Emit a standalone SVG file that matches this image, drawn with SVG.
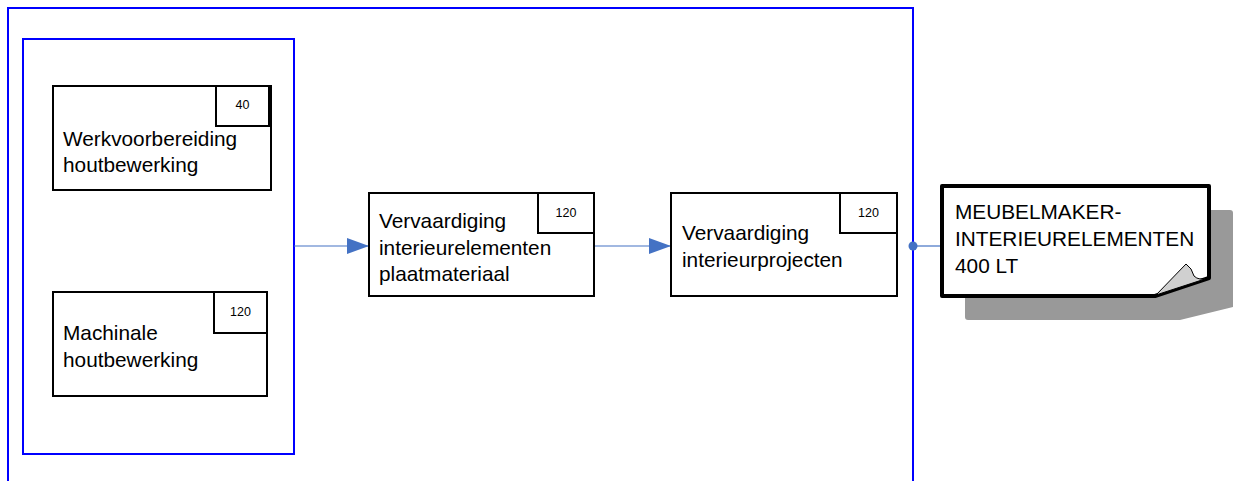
<svg xmlns="http://www.w3.org/2000/svg" width="1235" height="481" viewBox="0 0 1235 481">
<defs>
<style>
.frame{fill:none;stroke:#0000ff;stroke-width:2}
.box{fill:#fff;stroke:#000;stroke-width:2}
.num{font-family:"Liberation Sans",Arial,sans-serif;font-size:12.5px;fill:#000;text-anchor:middle}
.lbl{font-family:"Liberation Sans",Arial,sans-serif;font-size:20.8px;fill:#000}
.conn{fill:none;stroke:#4472c4;stroke-width:1.2}
</style>
<marker id="arr" markerWidth="22" markerHeight="16" refX="22" refY="8" orient="auto" markerUnits="userSpaceOnUse">
<path d="M0,0 L22,8 L0,16 Z" fill="#4472c4"/>
</marker>
</defs>
<rect width="1235" height="481" fill="#fff"/>
<g id="outer-frame"><rect class="frame" x="8" y="8" width="905" height="500"/></g>
<g id="inner-frame"><rect class="frame" x="23" y="39" width="271" height="415"/></g>
<g id="connectors">
<line class="conn" x1="294" y1="246" x2="369" y2="246" marker-end="url(#arr)"/>
<line class="conn" x1="594" y1="246" x2="671" y2="246" marker-end="url(#arr)"/>
<line class="conn" x1="913" y1="246" x2="942" y2="246"/>
<circle cx="913" cy="246" r="4.5" fill="#4472c4"/>
</g>
<g id="node-werkvoorbereiding">
<rect class="box" x="53" y="86" width="218" height="104"/>
<rect class="box" x="216" y="86" width="53" height="40"/>
<text class="num" x="242.5" y="109">40</text>
<text class="lbl" x="63" y="146">Werkvoorbereiding</text>
<text class="lbl" x="63" y="172">houtbewerking</text>
</g>
<g id="node-machinale">
<rect class="box" x="53" y="292" width="214" height="104"/>
<rect class="box" x="214" y="292" width="53" height="41"/>
<text class="num" x="240.5" y="316">120</text>
<text class="lbl" x="63" y="340">Machinale</text>
<text class="lbl" x="63" y="367">houtbewerking</text>
</g>
<g id="node-plaatmateriaal">
<rect class="box" x="369" y="193" width="225" height="103"/>
<rect class="box" x="538" y="193" width="56" height="40"/>
<text class="num" x="566" y="217">120</text>
<text class="lbl" x="379" y="228">Vervaardiging</text>
<text class="lbl" x="379" y="255">interieurelementen</text>
<text class="lbl" x="379" y="281">plaatmateriaal</text>
</g>
<g id="node-interieurprojecten">
<rect class="box" x="671" y="193" width="226" height="103"/>
<rect class="box" x="840" y="193" width="57" height="40"/>
<text class="num" x="868.5" y="217">120</text>
<text class="lbl" x="682" y="240">Vervaardiging</text>
<text class="lbl" x="682" y="267">interieurprojecten</text>
</g>
<g id="node-meubelmaker">
<path d="M968,210 H1230 Q1233,210 1233,213 V307 L1180,320 H968 Q965,320 965,317 V213 Q965,210 968,210 Z" fill="#999"/>
<path d="M942,186 H1209 V278 L1155,296 H942 Z" fill="#fff" stroke="#000" stroke-width="4" stroke-linejoin="round"/>
<path d="M1156,295 L1186,264 Q1192,268 1194,276 Q1199,281 1208,278 Z" fill="#d0d0d0" stroke="#000" stroke-width="1"/>
<text class="lbl" x="955" y="219">MEUBELMAKER-</text>
<text class="lbl" x="955" y="246">INTERIEURELEMENTEN</text>
<text class="lbl" x="955" y="273">400 LT</text>
</g>
</svg>
